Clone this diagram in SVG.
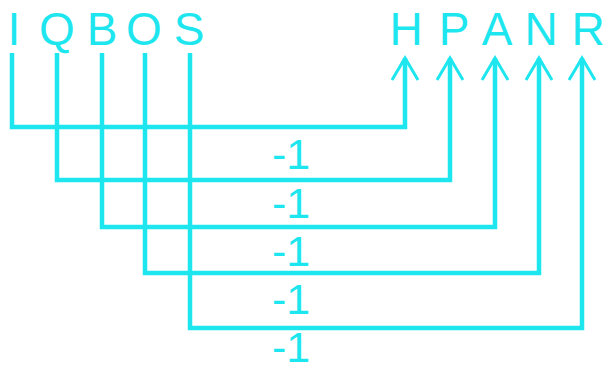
<svg xmlns="http://www.w3.org/2000/svg" width="606" height="371" viewBox="0 0 606 371">
<style>
.lbl{font-family:"Liberation Sans",Arial,sans-serif;font-size:46px;fill:#1ee6ef;text-anchor:middle}
.w{font-family:"Liberation Sans",Arial,sans-serif;font-size:43px;fill:#1ee6ef}
.c{fill:none;stroke:#1ee6ef;stroke-width:4.5;stroke-linejoin:miter;marker-end:url(#ah)}
</style>
<defs>
<marker id="ah" markerUnits="userSpaceOnUse" viewBox="0 0 26 30" refX="23" refY="15" markerWidth="26" markerHeight="30" orient="auto" overflow="visible">
<path d="M1,2 L23,15 L1,28" fill="none" stroke="#1ee6ef" stroke-width="3"/>
</marker>
</defs>
<g id="I"><text class="lbl" x="14" y="45">I</text></g>
<g id="Q"><text class="lbl" x="57" y="45">Q</text></g>
<g id="B"><text class="lbl" x="102" y="45">B</text></g>
<g id="O"><text class="lbl" x="144" y="45">O</text></g>
<g id="S"><text class="lbl" x="189" y="45">S</text></g>
<g id="H"><text class="lbl" x="406" y="45">H</text></g>
<g id="P"><text class="lbl" x="454" y="45">P</text></g>
<g id="A"><text class="lbl" x="497" y="45">A</text></g>
<g id="N"><text class="lbl" x="541" y="45">N</text></g>
<g id="R"><text class="lbl" x="588" y="45">R</text></g>
<g id="connectors">
<path class="c" d="M12,53 V127 H405 V58"/>
<path class="c" d="M57,53 V180 H450 V58"/>
<path class="c" d="M102,53 V227 H495 V58"/>
<path class="c" d="M145,53 V273 H539 V58"/>
<path class="c" d="M190,53 V328 H582 V58"/>
<text class="w" x="272" y="169">-1</text>
<text class="w" x="272" y="218">-1</text>
<text class="w" x="272" y="266">-1</text>
<text class="w" x="272" y="314">-1</text>
<text class="w" x="272" y="362">-1</text>
</g>
</svg>
